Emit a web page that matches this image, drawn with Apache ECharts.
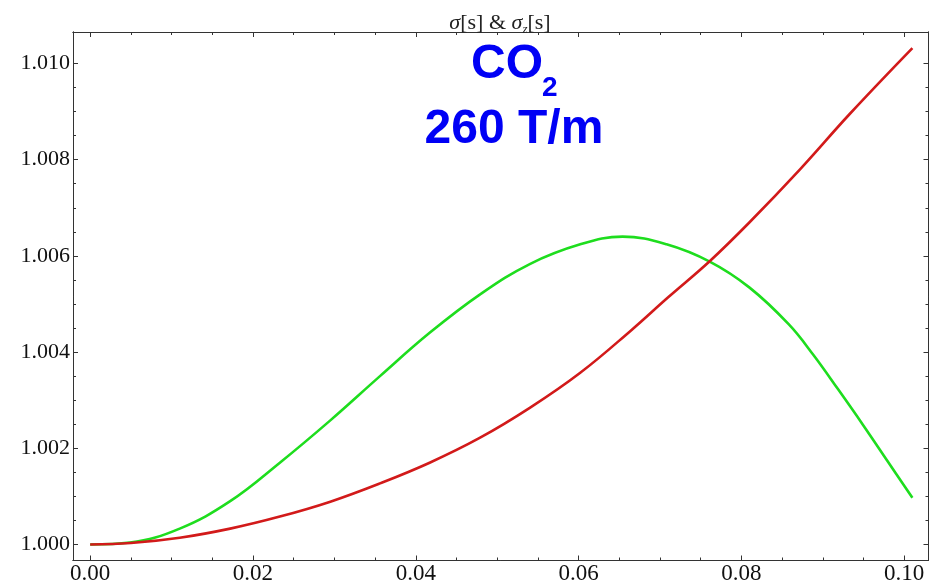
<!DOCTYPE html>
<html>
<head>
<meta charset="utf-8">
<script src="https://cdn.jsdelivr.net/npm/echarts@6/dist/echarts.min.js"></script>
<style>html,body{margin:0;padding:0;background:#fff}#c{width:933px;height:585px}</style>
</head>
<body>
<div id="c"></div>
<script>
// Data
var xRed   = [0, 0.0050, 0.0110, 0.0172, 0.0233, 0.0295, 0.0356, 0.0417, 0.0479, 0.0540, 0.0602, 0.0663, 0.0710, 0.0761, 0.0810, 0.0872, 0.0933, 0.1010];
var yRed   = [1.00000, 1.00003, 1.00014, 1.00033, 1.00058, 1.00089, 1.00127, 1.00170, 1.00222, 1.00284, 1.00357, 1.00443, 1.00514, 1.00589, 1.00670, 1.00780, 1.00895, 1.01032];
var xGreen = [0, 0.0049, 0.0110, 0.0172, 0.0233, 0.0295, 0.0356, 0.0417, 0.0479, 0.0540, 0.0602, 0.0654, 0.0708, 0.0761, 0.0810, 0.0858, 0.0888, 0.0919, 0.0950, 0.0980, 0.1010];
var yGreen = [1.00000, 1.00004, 1.00033, 1.00090, 1.00170, 1.00258, 1.00350, 1.00440, 1.00520, 1.00583, 1.00624, 1.00640, 1.00624, 1.00588, 1.00534, 1.00458, 1.00395, 1.00322, 1.00247, 1.00172, 1.00097];

var xMajorTicks = [0, 0.02, 0.04, 0.06, 0.08, 0.10];
var xMinorTicks = [0.005, 0.01, 0.015, 0.025, 0.03, 0.035, 0.045, 0.05, 0.055, 0.065, 0.07, 0.075, 0.085, 0.09, 0.095];
var yMajorTicks = [1.000, 1.002, 1.004, 1.006, 1.008, 1.010];
var yMinorTicks = [1.0005, 1.001, 1.0015, 1.0025, 1.003, 1.0035, 1.0045, 1.005, 1.0055, 1.0065, 1.007, 1.0075, 1.0085, 1.009, 1.0095];

var XMIN = -0.00211, XMAX = 0.10298;
var YMIN = 0.999667, YMAX = 1.010655;

function zip(a, b) { return a.map(function (v, i) { return [v, b[i]]; }); }

var FRAME = '#333';
function xAx(pos, ticks, len, labels) {
  return {
    type: 'value', position: pos, min: XMIN, max: XMAX,
    axisLine: { show: true, onZero: false, lineStyle: { color: FRAME, width: 1 } },
    axisTick: { show: true, inside: true, length: len, customValues: ticks, lineStyle: { color: FRAME, width: 1 } },
    axisLabel: labels ? { show: true, customValues: ticks, margin: 2, fontFamily: 'Liberation Serif', fontSize: 23, color: '#111',
      formatter: function (v) { return v.toFixed(2); } } : { show: false },
    splitLine: { show: false }
  };
}
function yAx(pos, ticks, len, labels) {
  return {
    type: 'value', position: pos, min: YMIN, max: YMAX,
    axisLine: { show: true, onZero: false, lineStyle: { color: FRAME, width: 1 } },
    axisTick: { show: true, inside: true, length: len, customValues: ticks, lineStyle: { color: FRAME, width: 1 } },
    axisLabel: labels ? { show: true, customValues: ticks, margin: 3, fontFamily: 'Liberation Serif', fontSize: 22, color: '#111',
      formatter: function (v) { return v.toFixed(3); } } : { show: false },
    splitLine: { show: false }
  };
}

var chart = echarts.init(document.getElementById('c'));
chart.setOption({
  animation: false,
  backgroundColor: '#fff',
  grid: { left: 73, right: 4.5, top: 32, bottom: 24.5, containLabel: false, outerBoundsMode: 'none' },
  title: {
    text: '{i|σ}{n|[s] & }{i|σ}{sub|z}{n|[s]}',
    left: 500, top: 10, textAlign: 'center', padding: 0,
    textStyle: {
      fontWeight: 'normal',
      rich: {
        i: { fontFamily: 'Liberation Serif', fontStyle: 'italic', fontWeight: 'normal', fontSize: 22, lineHeight: 26, verticalAlign: 'middle', color: '#222' },
        n: { fontFamily: 'Liberation Serif', fontWeight: 'normal', fontSize: 22, lineHeight: 26, verticalAlign: 'middle', color: '#222' },
        sub: { fontFamily: 'Liberation Serif', fontStyle: 'italic', fontWeight: 'normal', fontSize: 13, lineHeight: 17, verticalAlign: 'bottom', color: '#222' }
      }
    }
  },
  xAxis: [
    xAx('bottom', xMajorTicks, 5, true),
    xAx('bottom', xMinorTicks, 3, false),
    xAx('top', xMajorTicks, 5, false),
    xAx('top', xMinorTicks, 3, false)
  ],
  yAxis: [
    yAx('left', yMajorTicks, 5, true),
    yAx('left', yMinorTicks, 3, false),
    yAx('right', yMajorTicks, 5, false),
    yAx('right', yMinorTicks, 3, false)
  ],
  graphic: [
    { type: 'text', style: { text: 'CO', x: 507, y: 65, align: 'center', verticalAlign: 'middle',
      font: 'bold 48px "Liberation Sans", Arial, sans-serif', fill: '#0000f5' } },
    { type: 'text', style: { text: '2', x: 542, y: 88, align: 'left', verticalAlign: 'middle',
      font: 'bold 28px "Liberation Sans", Arial, sans-serif', fill: '#0000f5' } },
    { type: 'text', style: { text: '260 T/m', x: 514, y: 130, align: 'center', verticalAlign: 'middle',
      font: 'bold 48px "Liberation Sans", Arial, sans-serif', fill: '#0000f5' } }
  ],
  series: [
    { type: 'line', data: zip(xGreen, yGreen), xAxisIndex: 0, yAxisIndex: 0, showSymbol: false, smooth: 0.4,
      lineStyle: { color: '#1edd1e', width: 2.6 }, z: 3 },
    { type: 'line', data: zip(xRed, yRed), xAxisIndex: 0, yAxisIndex: 0, showSymbol: false, smooth: 0.4,
      lineStyle: { color: '#d21a1a', width: 2.6 }, z: 4 }
  ]
});
</script>
</body>
</html>
